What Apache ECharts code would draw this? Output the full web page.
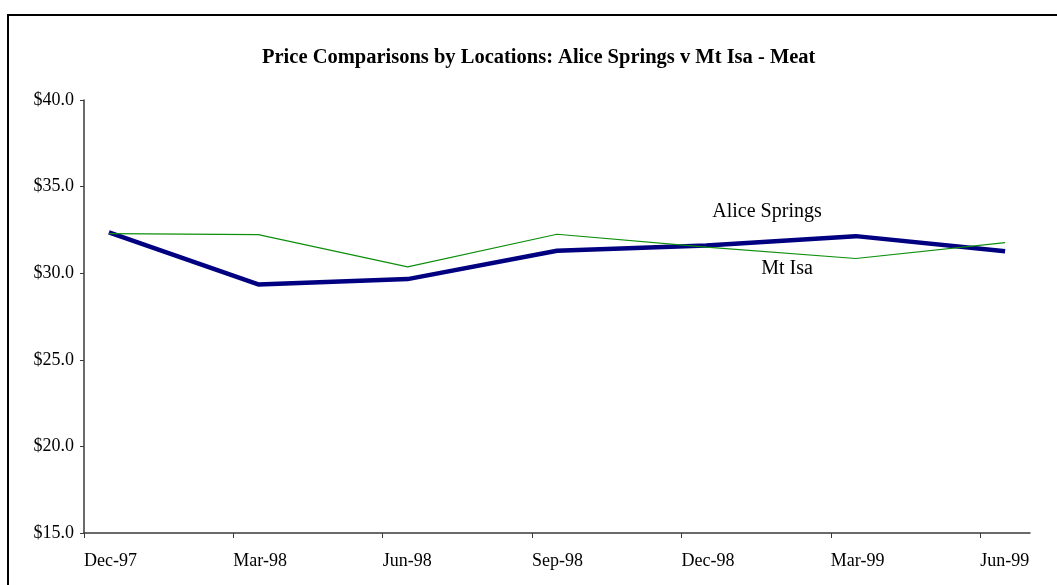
<!DOCTYPE html>
<html>
<head>
<meta charset="utf-8">
<script src="https://cdn.jsdelivr.net/npm/echarts@6/dist/echarts.min.js"></script>
<style>
  html, body { margin: 0; padding: 0; background: #fff; }
  #chart { width: 1057px; height: 585px; }
</style>
</head>
<body>
<div id="chart"></div>
<script>
// Quarterly meat basket prices, sampled mid-month (x in months since Dec-97)
const tickLabels = ['Dec-97', 'Mar-98', 'Jun-98', 'Sep-98', 'Dec-98', 'Mar-99', 'Jun-99'];
const tickMonths = [0, 3, 6, 9, 12, 15, 18];
const sampleMonths = [0.5, 3.5, 6.5, 9.5, 12.5, 15.5, 18.5];
const aliceSprings = [32.28, 32.23, 30.37, 32.25, 31.5, 30.85, 31.77];
const mtIsa = [32.35, 29.35, 29.66, 31.3, 31.6, 32.14, 31.27];
const yTicks = [15, 20, 25, 30, 35, 40];

const serif = '"Liberation Serif", "Times New Roman", serif';
const chart = echarts.init(document.getElementById('chart'));

const pair = (xs, ys) => xs.map((x, i) => [x, ys[i]]);

chart.setOption({
  animation: false,
  backgroundColor: '#fff',
  title: {
    text: 'Price Comparisons by Locations: Alice Springs v Mt Isa - Meat',
    left: 262,
    top: 47,
    padding: 0,
    textStyle: { fontFamily: serif, fontWeight: 'bold', fontSize: 20.5, color: '#000' }
  },
  grid: { left: 84, right: 27, top: 100, bottom: 52 },
  xAxis: {
    type: 'value',
    min: 0,
    max: 19,
    interval: 3,
    splitLine: { show: false },
    axisLine: { lineStyle: { color: '#3a3a3a', width: 1.5 } },
    axisTick: { show: true, length: 5, customValues: tickMonths, lineStyle: { color: '#3a3a3a' } },
    axisLabel: {
      customValues: tickMonths,
      align: 'left',
      margin: 19,
      fontFamily: serif,
      fontSize: 18,
      color: '#000',
      formatter: v => tickLabels[tickMonths.indexOf(v)] || ''
    }
  },
  yAxis: {
    type: 'value',
    min: 15,
    max: 40,
    interval: 5,
    splitLine: { show: false },
    axisLine: { show: true, lineStyle: { color: '#3a3a3a', width: 1.5 } },
    axisTick: { show: true, length: 4, customValues: yTicks, lineStyle: { color: '#3a3a3a' } },
    axisLabel: {
      margin: 10,
      fontFamily: serif,
      fontSize: 18,
      color: '#000',
      formatter: v => '$' + v.toFixed(1)
    }
  },
  series: [
    {
      name: 'Alice Springs',
      type: 'line',
      data: pair(sampleMonths, aliceSprings),
      symbol: 'none',
      lineStyle: { color: '#0d8f0d', width: 1.2 },
      z: 3
    },
    {
      name: 'Mt Isa',
      type: 'line',
      data: pair(sampleMonths, mtIsa),
      symbol: 'none',
      lineStyle: { color: '#000080', width: 4.5 },
      z: 2
    }
  ],
  graphic: [
    {
      type: 'rect',
      shape: { x: 8, y: 15, width: 1100, height: 640 },
      style: { fill: 'none', stroke: '#000', lineWidth: 2 },
      silent: true
    },
    {
      type: 'text',
      x: 767, y: 212,
      style: { text: 'Alice Springs', font: '20px ' + serif, fill: '#000', align: 'center', verticalAlign: 'middle' }
    },
    {
      type: 'text',
      x: 787, y: 269,
      style: { text: 'Mt Isa', font: '20px ' + serif, fill: '#000', align: 'center', verticalAlign: 'middle' }
    }
  ]
});
</script>
</body>
</html>
